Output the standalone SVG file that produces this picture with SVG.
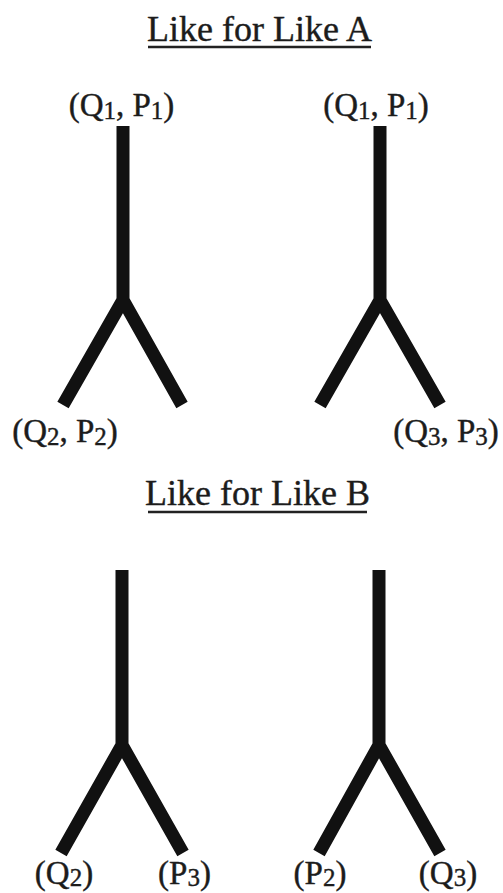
<svg xmlns="http://www.w3.org/2000/svg" width="503" height="893" viewBox="0 0 503 893">
<style>
text{font-family:'Liberation Serif','Times New Roman',serif;fill:#1c1c1c;stroke:#1c1c1c;stroke-width:0.4}
.t{font-size:36px}
.l{font-size:33px}
.s{font-size:25px}
.stk{stroke:#111;stroke-width:13;fill:none;stroke-linejoin:miter;stroke-linecap:butt}
.ul{stroke:#222;stroke-width:2.5}
</style>
<rect width="503" height="893" fill="#fff"/>
<g id="titleA"><text class="t" x="259.5" y="41" text-anchor="middle">Like for Like A</text><line class="ul" x1="148" y1="47" x2="371" y2="47"/></g>
<g id="titleB"><text class="t" x="257.5" y="505" text-anchor="middle">Like for Like B</text><line class="ul" x1="148" y1="512" x2="367" y2="512"/></g>
<g id="connectors">
<path class="stk" d="M123 126 V300 M63 405 L123 300 L182 405"/>
<path class="stk" d="M380 126 V300 M320 405 L380 300 L440 405"/>
<path class="stk" d="M122 570 V745 M61 853 L122 745 L183 853"/>
<path class="stk" d="M379 570 V745 M319 853 L379 745 L440 853"/>
</g>
<g id="labelA1"><text class="l" x="121.5" y="116" text-anchor="middle">(Q<tspan class="s" dy="3">1</tspan><tspan dy="-3">, P</tspan><tspan class="s" dy="3">1</tspan><tspan dy="-3">)</tspan></text></g>
<g id="labelA2"><text class="l" x="376" y="116" text-anchor="middle">(Q<tspan class="s" dy="3">1</tspan><tspan dy="-3">, P</tspan><tspan class="s" dy="3">1</tspan><tspan dy="-3">)</tspan></text></g>
<g id="labelA3"><text class="l" x="65" y="442" text-anchor="middle">(Q<tspan class="s" dy="3">2</tspan><tspan dy="-3">, P</tspan><tspan class="s" dy="3">2</tspan><tspan dy="-3">)</tspan></text></g>
<g id="labelA4"><text class="l" x="446" y="442" text-anchor="middle">(Q<tspan class="s" dy="3">3</tspan><tspan dy="-3">, P</tspan><tspan class="s" dy="3">3</tspan><tspan dy="-3">)</tspan></text></g>
<g id="labelB1"><text class="l" x="64" y="884" text-anchor="middle">(Q<tspan class="s" dy="2">2</tspan><tspan dy="-2">)</tspan></text></g>
<g id="labelB2"><text class="l" x="184.5" y="884" text-anchor="middle">(P<tspan class="s" dy="2">3</tspan><tspan dy="-2">)</tspan></text></g>
<g id="labelB3"><text class="l" x="320" y="884" text-anchor="middle">(P<tspan class="s" dy="2">2</tspan><tspan dy="-2">)</tspan></text></g>
<g id="labelB4"><text class="l" x="448" y="884" text-anchor="middle">(Q<tspan class="s" dy="2">3</tspan><tspan dy="-2">)</tspan></text></g>
</svg>
